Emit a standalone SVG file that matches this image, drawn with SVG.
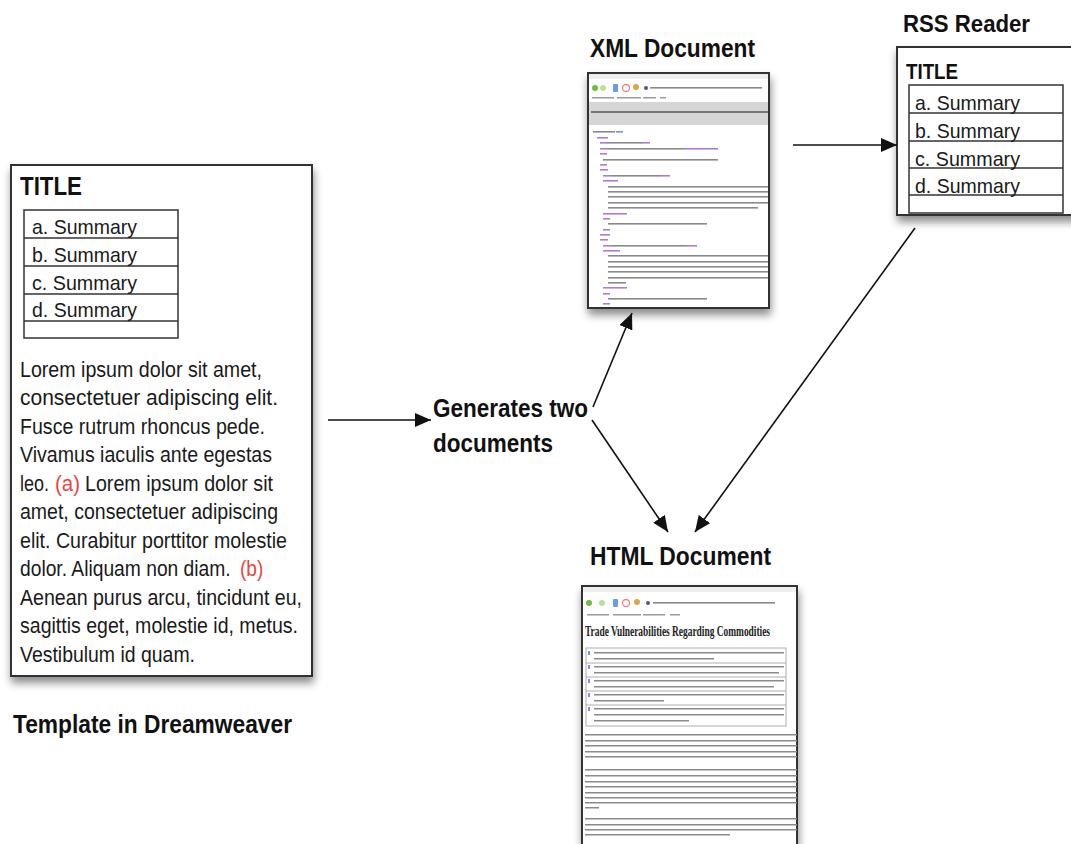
<svg xmlns="http://www.w3.org/2000/svg" width="1071" height="844" viewBox="0 0 1071 844">
<style>
.lbl{font-family:"Liberation Sans",Arial,sans-serif;font-weight:bold;fill:#111}
.t{font-family:"Liberation Sans",Arial,sans-serif;fill:#1a1a1a}
.red{fill:#e8463f}
.box{fill:#fff;stroke:#333;stroke-width:2}
.tbl{fill:none;stroke:#333;stroke-width:1.5}
.conn{stroke:#111;stroke-width:1.6;fill:none;marker-end:url(#ah)}
.g{fill:#8a8a8a}
.p{fill:#b57ad6}
.s{fill:#9a9a9a}
</style>
<defs>
<marker id="ah" markerUnits="userSpaceOnUse" markerWidth="16" markerHeight="14" refX="16" refY="7" orient="auto">
<path d="M0,0 L16,7 L0,14 z" fill="#111"/>
</marker>
<filter id="sh" x="-10%" y="-10%" width="130%" height="130%">
<feDropShadow dx="1" dy="6" stdDeviation="4" flood-color="#000" flood-opacity="0.45"/>
</filter>
</defs>

<g id="template">
<rect class="box" x="11" y="165" width="301" height="511" filter="url(#sh)"/>
<text class="lbl" x="20" y="195" font-size="25" textLength="62" lengthAdjust="spacingAndGlyphs">TITLE</text>
<rect class="tbl" x="24" y="210" width="154" height="128"/>
<line class="tbl" x1="24" y1="238" x2="178" y2="238"/>
<line class="tbl" x1="24" y1="266" x2="178" y2="266"/>
<line class="tbl" x1="24" y1="294" x2="178" y2="294"/>
<line class="tbl" x1="24" y1="321" x2="178" y2="321"/>
<g class="t" font-size="21">
<text x="32" y="234" textLength="105" lengthAdjust="spacingAndGlyphs">a. Summary</text>
<text x="32" y="262" textLength="105" lengthAdjust="spacingAndGlyphs">b. Summary</text>
<text x="32" y="290" textLength="105" lengthAdjust="spacingAndGlyphs">c. Summary</text>
<text x="32" y="317" textLength="105" lengthAdjust="spacingAndGlyphs">d. Summary</text>
</g>
<g class="t" font-size="22">
<text x="20" y="377" textLength="242" lengthAdjust="spacingAndGlyphs">Lorem ipsum dolor sit amet,</text>
<text x="20" y="405" textLength="258" lengthAdjust="spacingAndGlyphs">consectetuer adipiscing elit.</text>
<text x="20" y="434" textLength="245" lengthAdjust="spacingAndGlyphs">Fusce rutrum rhoncus pede.</text>
<text x="20" y="462" textLength="252" lengthAdjust="spacingAndGlyphs">Vivamus iaculis ante egestas</text>
<text x="20" y="491" textLength="29" lengthAdjust="spacingAndGlyphs">leo.</text>
<text class="red" x="55" y="491" textLength="25" lengthAdjust="spacingAndGlyphs">(a)</text>
<text x="85" y="491" textLength="188" lengthAdjust="spacingAndGlyphs">Lorem ipsum dolor sit</text>
<text x="20" y="519" textLength="258" lengthAdjust="spacingAndGlyphs">amet, consectetuer adipiscing</text>
<text x="20" y="548" textLength="267" lengthAdjust="spacingAndGlyphs">elit. Curabitur porttitor molestie</text>
<text transform="translate(20,576) scale(0.875,1)" x="0" y="0">dolor. Aliquam non diam.</text>
<text class="red" transform="translate(240,576) scale(0.87,1)" x="0" y="0">(b)</text>
<text x="20" y="605" textLength="282" lengthAdjust="spacingAndGlyphs">Aenean purus arcu, tincidunt eu,</text>
<text x="20" y="633" textLength="278" lengthAdjust="spacingAndGlyphs">sagittis eget, molestie id, metus.</text>
<text x="20" y="662" textLength="175" lengthAdjust="spacingAndGlyphs">Vestibulum id quam.</text>
</g>
<text class="lbl" x="13" y="733" font-size="25" textLength="279" lengthAdjust="spacingAndGlyphs">Template in Dreamweaver</text>
</g>

<g id="generates">
<text class="lbl" x="433" y="417" font-size="25" textLength="155" lengthAdjust="spacingAndGlyphs">Generates two</text>
<text class="lbl" x="433" y="452" font-size="25" textLength="120" lengthAdjust="spacingAndGlyphs">documents</text>
</g>

<g id="xml">
<text class="lbl" x="590" y="57" font-size="25" textLength="165" lengthAdjust="spacingAndGlyphs">XML Document</text>
<rect class="box" x="588" y="73" width="181" height="235" filter="url(#sh)"/>
<rect x="589" y="74" width="179" height="5" fill="#eee"/>
<circle cx="595" cy="88" r="3" fill="#6dbf3a"/>
<circle cx="603" cy="88" r="3" fill="#b9e39a"/>
<rect x="613" y="84" width="5" height="8" rx="1" fill="#6b9de0"/>
<circle cx="626" cy="88" r="3.5" fill="none" stroke="#f08080" stroke-width="1.3"/>
<circle cx="636" cy="87" r="3" fill="#d8a848"/>
<circle cx="646" cy="88" r="2" fill="#557"/>
<rect class="g" x="650" y="87" width="112" height="1.6"/>
<rect class="s" x="592" y="97" width="22" height="1.5"/>
<rect class="s" x="617" y="97" width="24" height="1.5"/>
<rect class="s" x="643" y="97" width="13" height="1.5"/>
<rect class="s" x="660" y="97" width="6" height="1.5"/>
<rect x="589" y="102" width="179" height="23" fill="#d6d6d6"/>
<rect x="591" y="111" width="177" height="2" fill="#777"/>
<g>
<rect class="g" x="593" y="131" width="22" height="1.6"/><rect x="616" y="131" width="7" height="1.6" fill="#7a8cf0"/>
<rect class="p" x="597" y="137" width="11" height="1.6"/>
<rect class="p" x="600" y="142" width="7" height="1.6"/><rect class="g" x="607" y="142" width="36" height="1.6"/><rect class="p" x="643" y="142" width="7" height="1.6"/>
<rect class="p" x="600" y="148" width="8" height="1.6"/><rect class="g" x="608" y="148" width="76" height="1.6"/><rect class="p" x="684" y="148" width="34" height="1.6"/>
<rect class="p" x="600" y="153" width="7" height="1.6"/>
<rect class="g" x="603" y="159" width="115" height="1.6"/>
<rect class="p" x="600" y="164" width="7" height="1.6"/>
<rect class="p" x="600" y="169" width="8" height="1.6"/>
<rect class="p" x="603" y="175" width="8" height="1.6"/><rect class="g" x="611" y="175" width="50" height="1.6"/><rect class="p" x="661" y="175" width="9" height="1.6"/>
<rect class="p" x="603" y="180" width="15" height="1.6"/>
<rect class="g" x="608" y="186" width="160" height="1.6"/>
<rect class="g" x="608" y="191" width="160" height="1.6"/>
<rect class="g" x="608" y="196" width="160" height="1.6"/>
<rect class="g" x="608" y="202" width="160" height="1.6"/>
<rect class="g" x="608" y="207" width="150" height="1.6"/>
<rect class="p" x="603" y="213" width="24" height="1.6"/>
<rect class="p" x="603" y="218" width="7" height="1.6"/>
<rect class="g" x="608" y="223" width="99" height="1.6"/>
<rect class="p" x="603" y="229" width="7" height="1.6"/>
<rect class="p" x="600" y="234" width="10" height="1.6"/>
<rect class="p" x="600" y="239" width="8" height="1.6"/>
<rect class="p" x="603" y="245" width="8" height="1.6"/><rect class="g" x="611" y="245" width="76" height="1.6"/><rect class="p" x="687" y="245" width="10" height="1.6"/>
<rect class="p" x="603" y="250" width="17" height="1.6"/>
<rect class="g" x="608" y="255" width="160" height="1.6"/>
<rect class="g" x="608" y="261" width="160" height="1.6"/>
<rect class="g" x="608" y="266" width="160" height="1.6"/>
<rect class="g" x="608" y="271" width="160" height="1.6"/>
<rect class="g" x="608" y="277" width="160" height="1.6"/>
<rect class="g" x="608" y="282" width="18" height="1.6"/>
<rect class="p" x="603" y="287" width="24" height="1.6"/>
<rect class="p" x="603" y="293" width="7" height="1.6"/>
<rect class="g" x="608" y="298" width="99" height="1.6"/>
<rect class="p" x="603" y="303" width="7" height="1.6"/>
</g>
</g>

<g id="rss">
<text class="lbl" x="903" y="32" font-size="24" textLength="127" lengthAdjust="spacingAndGlyphs">RSS Reader</text>
<rect class="box" x="897" y="47" width="200" height="168" filter="url(#sh)"/>
<text class="lbl" x="906" y="79" font-size="22" textLength="52" lengthAdjust="spacingAndGlyphs">TITLE</text>
<rect class="tbl" x="909" y="85" width="154" height="128"/>
<line class="tbl" x1="909" y1="113" x2="1063" y2="113"/>
<line class="tbl" x1="909" y1="141" x2="1063" y2="141"/>
<line class="tbl" x1="909" y1="168" x2="1063" y2="168"/>
<line class="tbl" x1="909" y1="195" x2="1063" y2="195"/>
<g class="t" font-size="21">
<text x="915" y="110" textLength="105" lengthAdjust="spacingAndGlyphs">a. Summary</text>
<text x="915" y="138" textLength="105" lengthAdjust="spacingAndGlyphs">b. Summary</text>
<text x="915" y="166" textLength="105" lengthAdjust="spacingAndGlyphs">c. Summary</text>
<text x="915" y="193" textLength="105" lengthAdjust="spacingAndGlyphs">d. Summary</text>
</g>
</g>

<g id="html">
<text class="lbl" x="590" y="565" font-size="25" textLength="181" lengthAdjust="spacingAndGlyphs">HTML Document</text>
<rect class="box" x="582" y="586" width="215" height="270" filter="url(#sh)"/>
<rect x="583" y="587" width="213" height="5" fill="#eee"/>
<circle cx="589" cy="603" r="3" fill="#6dbf3a"/>
<circle cx="602" cy="603" r="3" fill="#b9e39a"/>
<rect x="613" y="599" width="5" height="8" rx="1" fill="#6b9de0"/>
<circle cx="626" cy="603" r="3.5" fill="none" stroke="#f08080" stroke-width="1.3"/>
<circle cx="637" cy="602" r="3" fill="#d8a848"/>
<circle cx="648" cy="603" r="2" fill="#557"/>
<rect class="g" x="653" y="602" width="122" height="1.6"/>
<rect class="s" x="587" y="614" width="22" height="1.5"/>
<rect class="s" x="613" y="614" width="28" height="1.5"/>
<rect class="s" x="643" y="614" width="22" height="1.5"/>
<rect class="s" x="670" y="614" width="10" height="1.5"/>
<text x="585" y="636" font-family="'Liberation Serif','Times New Roman',serif" font-weight="bold" font-size="14" fill="#222" textLength="185" lengthAdjust="spacingAndGlyphs">Trade Vulnerabilities Regarding Commodities</text>
<rect x="586" y="648" width="200" height="78" fill="none" stroke="#999" stroke-width="0.8"/>
<g stroke="#999" stroke-width="0.8">
<line x1="586" y1="663" x2="786" y2="663"/><line x1="586" y1="677" x2="786" y2="677"/><line x1="586" y1="691" x2="786" y2="691"/><line x1="586" y1="705" x2="786" y2="705"/>
</g>
<g fill="#7a8cf0">
<rect x="588" y="651" width="2" height="4"/><rect x="588" y="665" width="2" height="4"/><rect x="588" y="679" width="2" height="4"/><rect x="588" y="693" width="2" height="4"/><rect x="588" y="707" width="2" height="4"/>
</g>
<g class="g">
<rect x="594" y="652" width="190" height="1.5"/><rect x="594" y="658" width="120" height="1.5"/>
<rect x="594" y="666" width="190" height="1.5"/><rect x="594" y="672" width="185" height="1.5"/>
<rect x="594" y="680" width="190" height="1.5"/><rect x="594" y="686" width="180" height="1.5"/>
<rect x="594" y="694" width="190" height="1.5"/><rect x="594" y="700" width="70" height="1.5"/>
<rect x="594" y="708" width="190" height="1.5"/><rect x="594" y="714" width="190" height="1.5"/><rect x="594" y="720" width="95" height="1.5"/>
<rect x="585" y="734" width="212" height="1.5"/><rect x="585" y="740" width="212" height="1.5"/><rect x="585" y="745" width="212" height="1.5"/><rect x="585" y="751" width="212" height="1.5"/><rect x="585" y="756" width="212" height="1.5"/>
<rect x="585" y="769" width="212" height="1.5"/><rect x="585" y="775" width="212" height="1.5"/><rect x="585" y="781" width="212" height="1.5"/><rect x="585" y="786" width="212" height="1.5"/><rect x="585" y="792" width="212" height="1.5"/><rect x="585" y="797" width="212" height="1.5"/><rect x="585" y="802" width="212" height="1.5"/><rect x="585" y="807" width="14" height="1.5"/>
<rect x="585" y="818" width="212" height="1.5"/><rect x="585" y="824" width="212" height="1.5"/><rect x="585" y="829" width="212" height="1.5"/><rect x="585" y="834" width="145" height="1.5"/>
</g>
</g>

<g id="connectors">
<line class="conn" x1="328" y1="420" x2="431" y2="420"/>
<line class="conn" x1="593" y1="407" x2="632" y2="313"/>
<line class="conn" x1="592" y1="420" x2="668" y2="532"/>
<line class="conn" x1="915" y1="228" x2="695" y2="532"/>
<line class="conn" x1="793" y1="145" x2="897" y2="145"/>
</g>
</svg>
